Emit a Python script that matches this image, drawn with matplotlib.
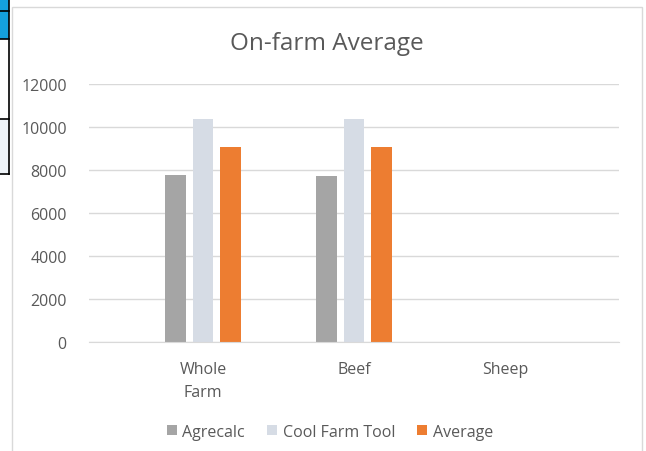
import matplotlib
matplotlib.use("Agg")
import matplotlib.pyplot as plt
import numpy as np
from matplotlib.patches import Rectangle
from matplotlib.lines import Line2D

categories = ["Whole\nFarm", "Beef", "Sheep"]
series_names = ["Agrecalc", "Cool Farm Tool", "Average"]
agrecalc = [7770, 7700, 0]
cool_farm = [10370, 10370, 0]
average = [9050, 9050, 0]
yticks = [0, 2000, 4000, 6000, 8000, 10000, 12000]
colors = ["#a5a5a5", "#d6dce5", "#ed7d31"]

plt.rcParams['font.family'] = ['Open Sans', 'DejaVu Sans']

W, H = 646, 452
fig = plt.figure(figsize=(W/100, H/100), dpi=100)
fig.patch.set_facecolor("white")

def fx(x): return x / W
def fy(y): return 1 - y / H

# left artifacts (spreadsheet cells)
fig.add_artist(Rectangle((fx(0), fy(40)), fx(9), 40/H, transform=fig.transFigure,
                         facecolor="#14a0dc", edgecolor="none"))
fig.add_artist(Rectangle((fx(0), fy(175)), fx(9), 55/H, transform=fig.transFigure,
                         facecolor="#eef3f8", edgecolor="none"))
for yy in [12, 40, 120, 175]:
    fig.add_artist(Line2D([fx(0), fx(9)], [fy(yy), fy(yy)], transform=fig.transFigure,
                          color="black", lw=1.2))
fig.add_artist(Line2D([fx(9), fx(9)], [fy(0), fy(175)], transform=fig.transFigure,
                      color="black", lw=1.2))
# chart frame
fig.add_artist(Rectangle((fx(12), fy(460)), (642-12)/W, (460-8)/H, transform=fig.transFigure,
                         facecolor="none", edgecolor="#d9d9d9", lw=1))

ax = fig.add_axes([fx(89), fy(343), (619-89)/W, (343-85)/H])
x = np.arange(len(categories))
bw = 0.139
off = 0.179
for i, (vals, name) in enumerate(zip([agrecalc, cool_farm, average], series_names)):
    ax.bar(x + (i-1)*off, vals, width=bw, color=colors[i], label=name, zorder=3)

ax.set_ylim(0, 12000)
ax.set_xlim(-0.755, 2.755)
ax.set_yticks(yticks)
ax.set_yticklabels([str(v) for v in yticks], fontsize=11.5, color="#595959")
ax.set_xticks(x)
ax.set_xticklabels(categories, fontsize=11.5, color="#595959", linespacing=1.55)
ax.tick_params(axis='both', length=0)
ax.tick_params(axis='y', pad=16)
ax.tick_params(axis='x', pad=14)
ax.grid(axis='y', color="#d9d9d9", lw=1, zorder=0)
for s in ["top", "right", "left"]:
    ax.spines[s].set_visible(False)
ax.spines["bottom"].set_color("#d9d9d9")
ax.spines["bottom"].set_zorder(4)

fig.text(fx(327), fy(44), "On-farm Average", ha="center", va="center",
         fontsize=17.5, color="#595959")

leg = fig.legend(loc="center", bbox_to_anchor=(fx(330), fy(433)), ncol=3, frameon=False,
                 fontsize=11.5, handlelength=0.6, handleheight=0.6, columnspacing=1.4,
                 handletextpad=0.35)
for t in leg.get_texts():
    t.set_color("#595959")

fig.savefig("out.png", dpi=100, facecolor="white")
